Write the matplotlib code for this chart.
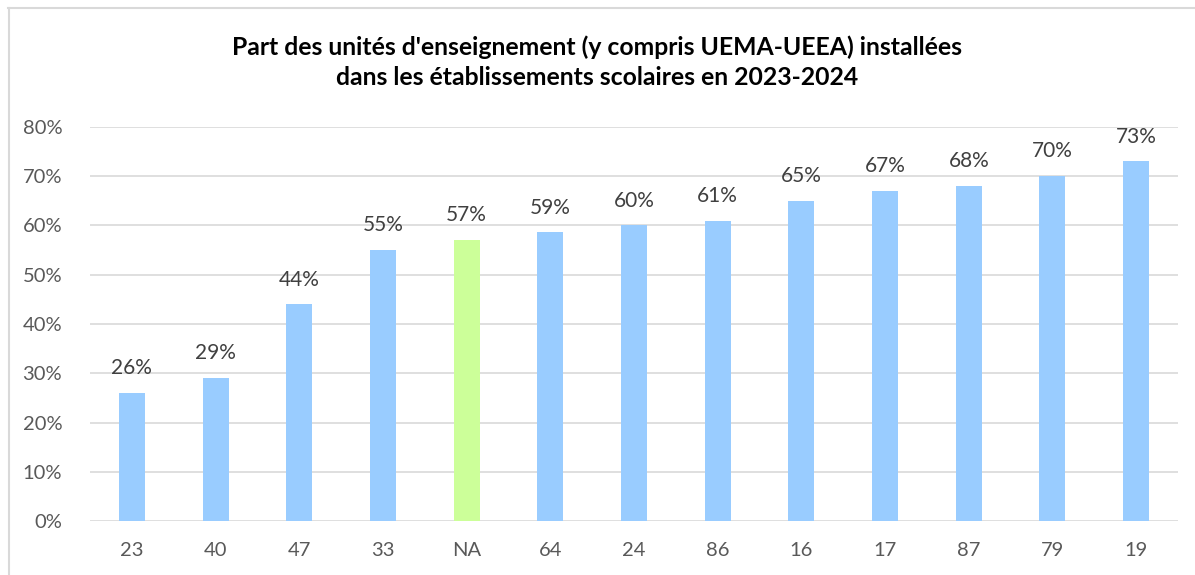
import matplotlib.pyplot as plt
from matplotlib.lines import Line2D
from matplotlib.ticker import PercentFormatter

categories = ["23", "40", "47", "33", "NA", "64", "24", "86", "16", "17", "87", "79", "19"]
values = [26, 29, 44, 55, 57, 58.6, 60, 61, 65, 67, 68, 70, 73]
labels = ["26%", "29%", "44%", "55%", "57%", "59%", "60%", "61%", "65%", "67%", "68%", "70%", "73%"]
highlight = "NA"

plt.rcParams['font.family'] = ['Lato', 'DejaVu Sans']

fig = plt.figure(figsize=(11.95, 5.75), dpi=100)
ax = fig.add_axes([90 / 1195, 1 - 521 / 575, (1178 - 90) / 1195, (521 - 127) / 575])

colors = ["#ccff99" if c == highlight else "#99ccff" for c in categories]
x = range(len(categories))
ax.bar(x, values, width=0.31, color=colors, zorder=2)

for i, (v, lab) in enumerate(zip(values, labels)):
    ax.text(i, v + 3.0, lab, ha="center", va="bottom", fontsize=15, color="#404040", clip_on=False)

ax.set_xlim(-0.5, len(categories) - 0.5)
ax.set_ylim(0, 80)
ax.set_yticks(range(0, 81, 10))
ax.yaxis.set_major_formatter(PercentFormatter(decimals=0))
ax.set_xticks(list(x))
ax.set_xticklabels(categories)
ax.tick_params(axis="both", length=0, labelsize=14.5, labelcolor="#595959")
ax.tick_params(axis="x", pad=15)
ax.tick_params(axis="y", pad=20)
ax.grid(axis="y", color="#d9d9d9", linewidth=1.2, zorder=0)
for s in ax.spines.values():
    s.set_visible(False)

fig.text(0.5, 1 - 62.5 / 575, "Part des unités d'enseignement (y compris UEMA-UEEA) installées\ndans les établissements scolaires en 2023-2024",
         ha="center", va="center", fontsize=17.8, fontweight="bold", color="black", linespacing=1.35)

# cadre du graphique (haut et gauche visibles)
fig.add_artist(Line2D([8 / 1195, 1], [1 - 7.5 / 575, 1 - 7.5 / 575], color="#d9d9d9", linewidth=1.5))
fig.add_artist(Line2D([8.5 / 1195, 8.5 / 1195], [0, 1 - 7.5 / 575], color="#d9d9d9", linewidth=1.5))

fig.savefig("out.png", dpi=100)
